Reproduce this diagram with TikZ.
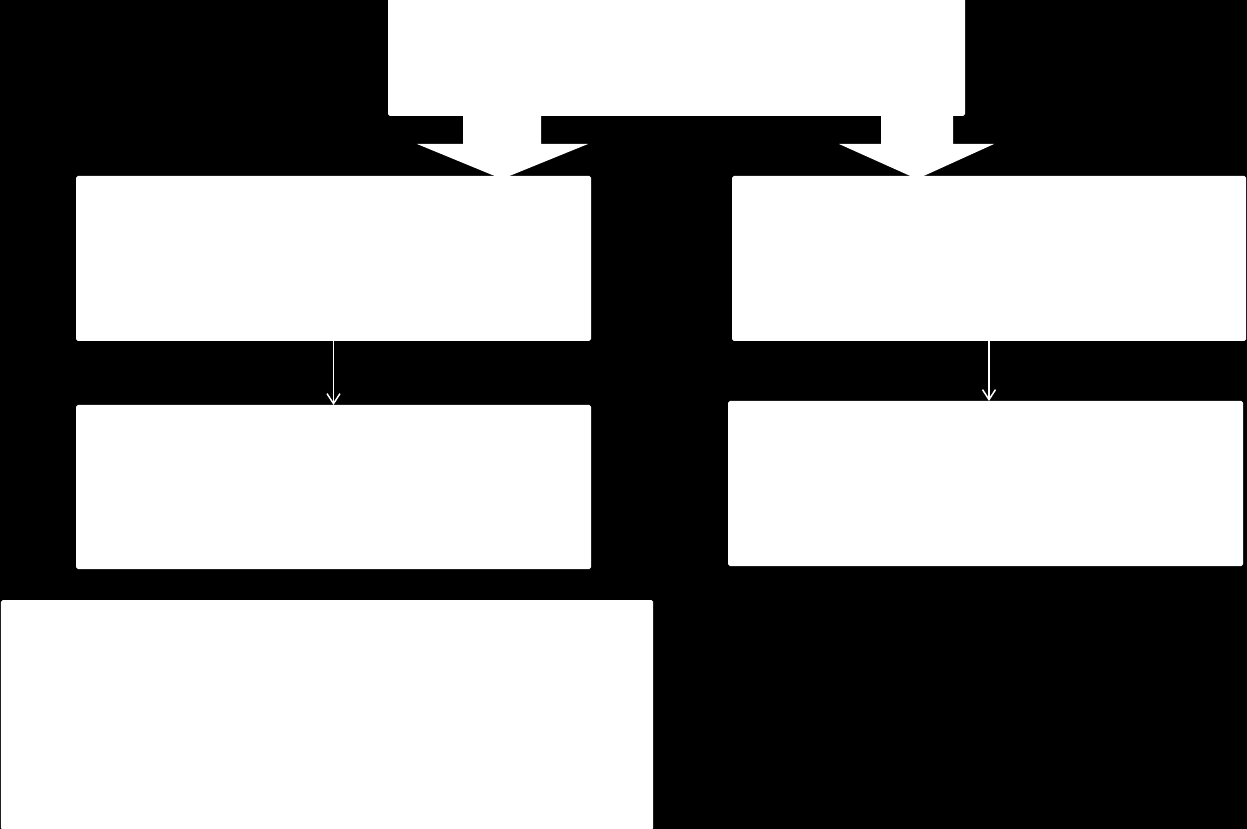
\documentclass[tikz,border=0pt]{standalone}
\usetikzlibrary{arrows.meta}

\begin{document}
\begin{tikzpicture}[thick, box/.style = {fill=white, rounded corners=1pt, inner sep=0pt, outer sep=0pt},
    link/.style = {draw=white, line width=0.85pt, -{Straight Barb[length=2mm,width=2.6mm]}}]
    % background
    \fill[black] (0,0) rectangle (24.94,-16.58);
    \useasboundingbox (0,0) rectangle (24.94,-16.58);

    \node[box, minimum width=11.54cm, minimum height=2.36cm] (top) at (13.53,-1.14) {};
    \node[box, minimum width=10.30cm, minimum height=3.30cm] (left1) at (6.67,-5.17) {};
    \node[box, minimum width=10.28cm, minimum height=3.30cm] (right1) at (19.78,-5.17) {};
    \node[box, minimum width=10.30cm, minimum height=3.28cm] (left2) at (6.67,-9.74) {};
    \node[box, minimum width=10.30cm, minimum height=3.30cm] (right2) at (19.71,-9.67) {};
    \node[box, minimum width=13.04cm, minimum height=4.60cm] (bottom) at (6.54,-14.30) {};

    % block arrows
    \fill[white] (9.26,-2.30) -- (10.82,-2.30) -- (10.82,-2.88) -- (11.76,-2.88) -- (10.04,-3.58)
        -- (8.34,-2.88) -- (9.26,-2.88) -- cycle;
    \fill[white] (17.62,-2.30) -- (19.06,-2.30) -- (19.06,-2.88) -- (19.88,-2.88) -- (18.34,-3.58)
        -- (16.78,-2.88) -- (17.62,-2.88) -- cycle;

    \draw[link] (left1.south) -- (left2.north);
    \draw[link] (right1.south) -- (right1.south |- right2.north);
\end{tikzpicture}
\end{document}
